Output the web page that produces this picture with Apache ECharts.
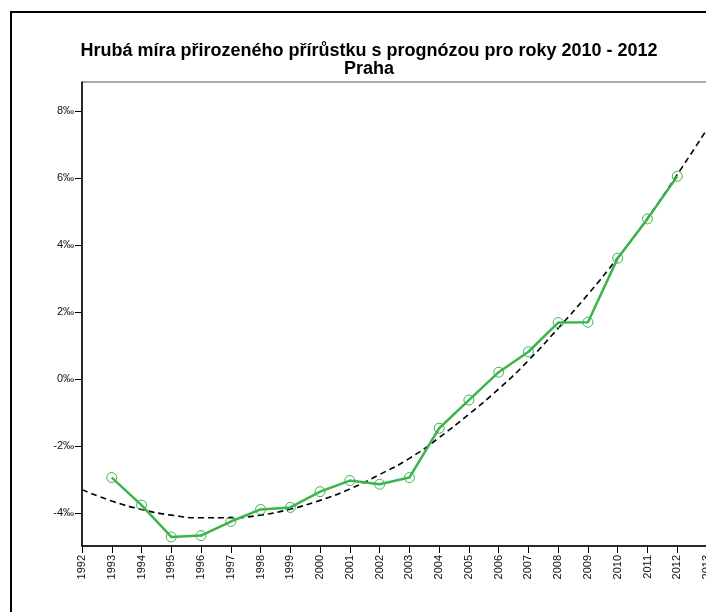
<!DOCTYPE html>
<html>
<head>
<meta charset="utf-8">
<script src="https://cdn.jsdelivr.net/npm/echarts@6/dist/echarts.min.js"></script>
<style>
  html, body { margin: 0; padding: 0; background: #fff; overflow: hidden; width: 706px; height: 612px; }
  #chart { width: 760px; height: 612px; }
</style>
</head>
<body>
<div id="chart"></div>
<script>
// Years on the horizontal axis
const years = ['1992','1993','1994','1995','1996','1997','1998','1999','2000','2001','2002',
               '2003','2004','2005','2006','2007','2008','2009','2010','2011','2012','2013'];

// Crude rate of natural increase (per mille), observed and forecast 2010-2012
const naturalIncrease = [null, -2.93, -3.75, -4.70, -4.66, -4.24, -3.88, -3.82, -3.35, -3.02, -3.13,
                         -2.93, -1.46, -0.62, 0.21, 0.82, 1.69, 1.70, 3.61, 4.78, 6.05, null];

// Trend curve (dashed)
const trendValues = [-3.29, -3.63, -3.88, -4.05, -4.13, -4.13, -4.05, -3.87, -3.61, -3.27, -2.84,
                     -2.36, -1.74, -1.04, -0.29, 0.56, 1.52, 2.53, 3.62, 4.80, 6.10, 7.45];

// Y axis tick values
const yTicks = [-4, -2, 0, 2, 4, 6, 8];

// The drawing surface is a little wider than the visible page; the right end is cut off
const chart = echarts.init(document.getElementById('chart'), null, { renderer: 'canvas' });

chart.setOption({
  backgroundColor: '#ffffff',
  animation: false,
  textStyle: { fontFamily: 'Liberation Sans, Arial, sans-serif' },
  title: {
    text: 'Hrubá míra přirozeného přírůstku s prognózou pro roky 2010 - 2012\nPraha',
    left: 364,
    textAlign: 'center',
    top: 37,
    textStyle: {
      fontFamily: 'Liberation Sans, Arial, sans-serif',
      fontWeight: 'bold',
      fontSize: 18,
      lineHeight: 18,
      color: '#000'
    }
  },
  graphic: [{
    type: 'rect',
    shape: { x: 11, y: 12, width: 900, height: 800 },
    style: { fill: 'none', stroke: '#000', lineWidth: 2 },
    silent: true
  }],
  grid: {
    left: 82, top: 82, width: 625, height: 464,
    show: true, borderColor: '#555', borderWidth: 1,
    containLabel: false
  },
  xAxis: {
    type: 'category',
    data: years,
    boundaryGap: false,
    axisLine: { show: true, onZero: false, lineStyle: { color: '#000', width: 1.5 } },
    axisTick: { show: true, inside: false, length: 7, alignWithLabel: true, lineStyle: { color: '#000', width: 1 } },
    axisLabel: {
      interval: 0, rotate: 90, margin: 9,
      fontSize: 11, color: '#111',
      fontFamily: 'Liberation Sans, Arial, sans-serif'
    },
    splitLine: { show: false }
  },
  yAxis: {
    type: 'value',
    min: -4.97,
    max: 8.86,
    axisLine: { show: true, onZero: false, lineStyle: { color: '#000', width: 1.5 } },
    axisTick: { show: true, length: 7, customValues: yTicks, lineStyle: { color: '#000', width: 1 } },
    axisLabel: {
      customValues: yTicks,
      margin: 8,
      fontSize: 11, color: '#111',
      fontFamily: 'Liberation Sans, Arial, sans-serif',
      formatter: v => v + '‰'
    },
    splitLine: { show: false }
  },
  series: [
    {
      name: 'trend',
      type: 'line',
      data: trendValues,
      smooth: true,
      showSymbol: false,
      symbol: 'none',
      lineStyle: { color: '#000', width: 1.6, type: [6, 4] },
      z: 2
    },
    {
      name: 'Praha',
      type: 'line',
      data: naturalIncrease,
      connectNulls: false,
      symbol: 'circle',
      symbolSize: 10,
      showAllSymbol: true,
      lineStyle: { color: '#3bb54a', width: 2.5 },
      itemStyle: { color: 'rgba(255,255,255,0)', borderColor: '#3bb54a', borderWidth: 1 },
      z: 3
    }
  ]
});
</script>
</body>
</html>
